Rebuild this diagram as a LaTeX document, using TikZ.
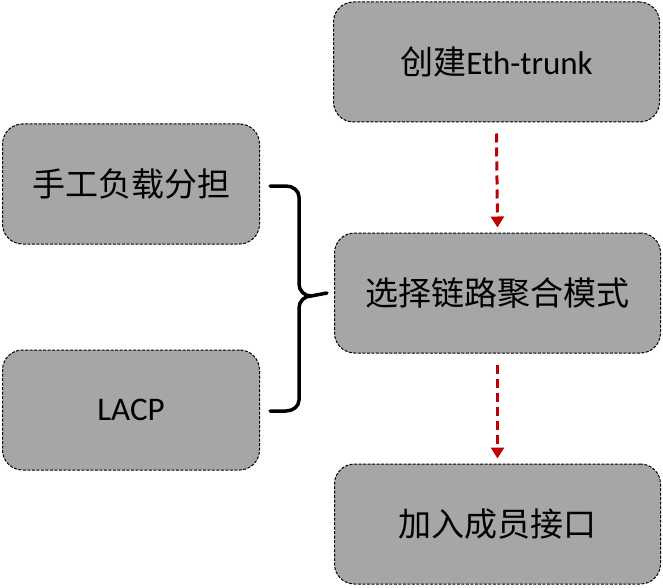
\documentclass[tikz,border=0pt]{standalone}
\usepackage{fontspec}
\setmainfont{Carlito}
\newfontfamily\cjk{Noto Sans CJK SC}
\usetikzlibrary{arrows.meta}

\definecolor{boxgray}{RGB}{166,166,166}
\definecolor{flowred}{RGB}{192,0,0}

\begin{document}
\begin{tikzpicture}[x=1pt,y=-1pt,
    stepbox/.style={draw=black, fill=boxgray, rounded corners=20pt, line width=1pt,
        dash pattern=on 3pt off 1.5pt, minimum width=326pt, minimum height=120pt,
        font=\fontsize{33}{38}\selectfont},
    modebox/.style={stepbox, minimum width=257pt},
    flow/.style={flowred, line width=3pt, dash pattern=on 9pt off 5pt,
        -{Triangle[length=11pt,width=13pt]}},
    brace/.style={line width=3.5pt, line cap=round, line join=round}]
                \useasboundingbox (0,0) rectangle (663,588);

                \node[stepbox] (create) at (496.5,62) {\cjk 创建{\rmfamily Eth-trunk}};
                \node[stepbox] (mode) at (497.5,293) {\cjk 选择链路聚合模式};
                \node[stepbox] (join) at (497.5,524) {\cjk 加入成员接口};

                \node[modebox] (manual) at (131,184) {\cjk 手工负载分担};
                \node[modebox] (lacp) at (131,410) {LACP};

                \draw[flow] ([yshift=-11pt]create.south) -- ([yshift=5pt]mode.north);
                \draw[flow] ([yshift=-11pt]mode.south) -- ([yshift=5pt]join.north);

                % brace from the two modes to the choice
                \coordinate (bt) at ([xshift=10pt]manual.east |- 0,186);
                \coordinate (bb) at ([xshift=10pt]lacp.east |- 0,411);
                \coordinate (tip) at ([xshift=-7pt]mode.west);
                \draw[brace] (bt) -- (286,186) to[out=0,in=90] (299,197) -- (299,284)
                    to[out=-90,in=180] (311,296) -- (tip);
                \draw[brace] (bb) -- (286,411) to[out=0,in=-90] (299,400) -- (299,308)
                    to[out=90,in=180] (311,296);
                %\draw (tip) circle (2);
\end{tikzpicture}
\end{document}
